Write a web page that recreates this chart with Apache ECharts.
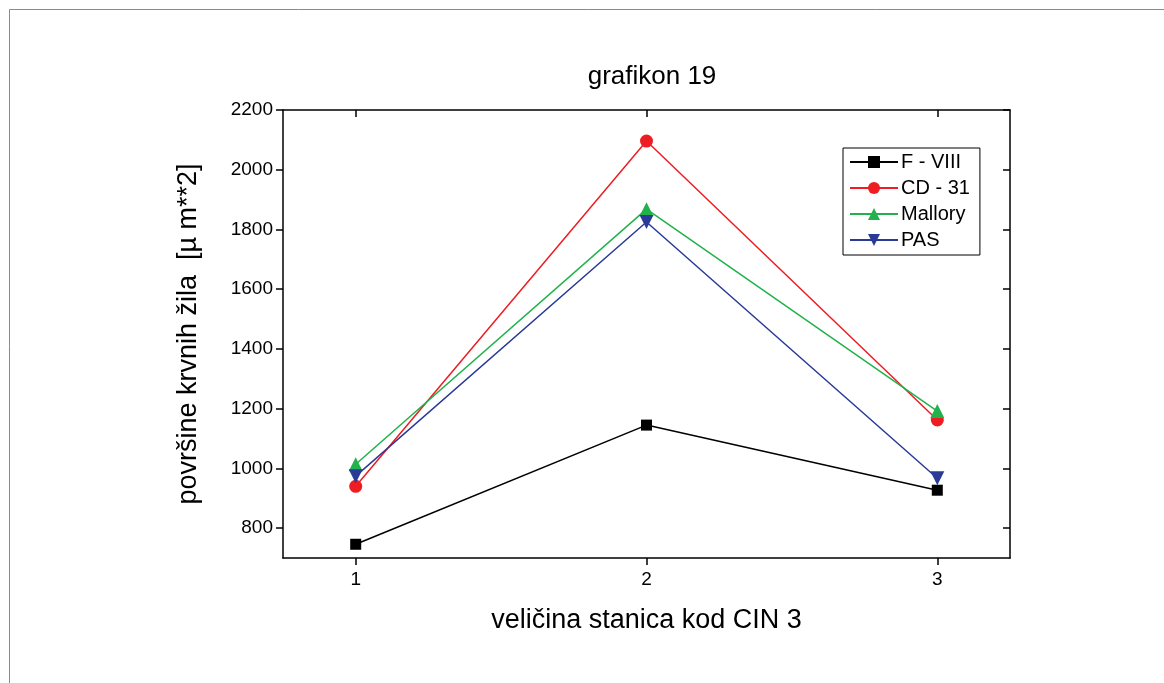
<!DOCTYPE html>
<html>
<head>
<meta charset="utf-8">
<script src="https://cdn.jsdelivr.net/npm/echarts@6/dist/echarts.min.js"></script>
<style>
html,body{margin:0;padding:0;background:#fff;}
#chart{width:1164px;height:683px;}
</style>
</head>
<body>
<div id="chart"></div>
<script>
const xValues = [1, 2, 3];
const xTickLabels = [1, 2, 3];
const yTickValues = [800, 1000, 1200, 1400, 1600, 1800, 2000, 2200];
const seriesNames = ['F - VIII', 'CD - 31', 'Mallory', 'PAS'];
const fViii = [746, 1145, 927];
const cd31 = [940, 2096, 1162];
const mallory = [1014, 1868, 1192];
const pas = [974, 1825, 967];

const colors = ['#000000', '#EE1D23', '#21B24B', '#2A3B97'];
const symbols = ['rect', 'circle', 'triangle', 'triangle'];
const rotations = [0, 0, 0, 180];
const sizes = [11, 13, 14, 14];
const allData = [fViii, cd31, mallory, pas];

const font = 'Liberation Sans, Arial, sans-serif';
const chart = echarts.init(document.getElementById('chart'), null, {renderer: 'canvas'});

const series = allData.map((vals, i) => ({
  name: seriesNames[i],
  type: 'line',
  data: xValues.map((x, j) => [x, vals[j]]),
  symbol: symbols[i],
  symbolSize: sizes[i],
  symbolRotate: rotations[i],
  showAllSymbol: true,
  lineStyle: {color: colors[i], width: 1.5},
  itemStyle: {color: colors[i]},
  emphasis: {disabled: true},
  animation: false
}));

chart.setOption({
  animation: false,
  backgroundColor: '#fff',
  title: {
    text: 'grafikon 19',
    left: 647, top: 59, textAlign: 'center',
    textStyle: {fontFamily: font, fontSize: 26, fontWeight: 'normal', color: '#000'}
  },
  graphic: [{
    type: 'rect', silent: true,
    shape: {x: 9.5, y: 9.5, width: 1300, height: 800},
    style: {fill: 'none', stroke: '#8a8a8a', lineWidth: 1}
  }],
  legend: {
    orient: 'vertical',
    left: 843, top: 148,
    itemWidth: 48, itemHeight: 15, itemGap: 6,
    padding: [4, 10, 5, 6],
    borderColor: '#000', borderWidth: 1,
    textStyle: {fontFamily: font, fontSize: 20, color: '#000', padding: [0, 0, 0, -2]},
    data: seriesNames
  },
  grid: {left: 283, right: 154, top: 110, bottom: 125, containLabel: false},
  xAxis: [{
    type: 'value', min: 0.75, max: 3.25, position: 'bottom',
    name: 'veličina stanica kod CIN 3', nameLocation: 'middle', nameGap: 49,
    nameTextStyle: {fontFamily: font, fontSize: 27, color: '#000'},
    axisLine: {show: true, onZero: false, lineStyle: {color: '#000', width: 1.5}},
    axisTick: {show: true, inside: false, length: 7, customValues: xTickLabels, lineStyle: {color: '#000', width: 1.5}},
    axisLabel: {customValues: xTickLabels, fontFamily: font, fontSize: 19, color: '#000', margin: 12, formatter: v => String(v)},
    splitLine: {show: false}
  }, {
    type: 'value', min: 0.75, max: 3.25, position: 'top',
    axisLine: {show: true, onZero: false, lineStyle: {color: '#000', width: 1.5}},
    axisTick: {show: true, inside: true, length: 7, customValues: xTickLabels, lineStyle: {color: '#000', width: 1.5}},
    axisLabel: {show: false},
    splitLine: {show: false}
  }],
  yAxis: [{
    type: 'value', min: 700, max: 2200, position: 'left',
    name: 'površine krvnih žila  [µ m**2]', nameLocation: 'middle', nameGap: 81,
    nameTextStyle: {fontFamily: font, fontSize: 27, color: '#000'},
    axisLine: {show: true, onZero: false, lineStyle: {color: '#000', width: 1.5}},
    axisTick: {show: true, inside: false, length: 7, customValues: yTickValues, lineStyle: {color: '#000', width: 1.5}},
    axisLabel: {customValues: yTickValues, fontFamily: font, fontSize: 19, color: '#000', margin: 10, formatter: v => String(v)},
    splitLine: {show: false}
  }, {
    type: 'value', min: 700, max: 2200, position: 'right',
    axisLine: {show: true, onZero: false, lineStyle: {color: '#000', width: 1.5}},
    axisTick: {show: true, inside: true, length: 7, customValues: yTickValues, lineStyle: {color: '#000', width: 1.5}},
    axisLabel: {show: false},
    splitLine: {show: false}
  }],
  series: series
});
</script>
</body>
</html>
